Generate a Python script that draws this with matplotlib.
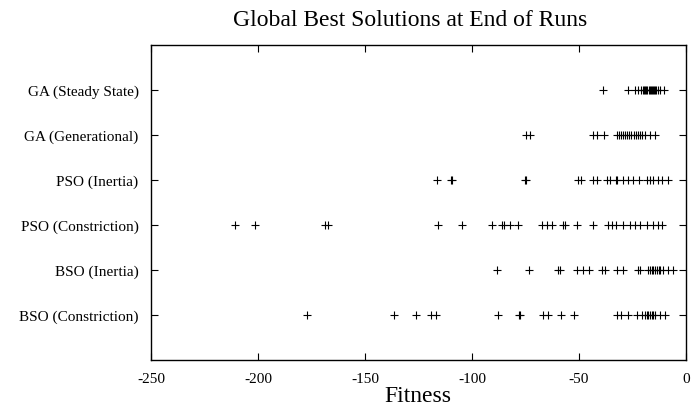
import matplotlib
matplotlib.use("Agg")
import matplotlib.pyplot as plt

plt.rcParams['font.family'] = ['Liberation Serif', 'DejaVu Serif']

categories = ["BSO (Constriction)", "BSO (Inertia)", "PSO (Constriction)",
              "PSO (Inertia)", "GA (Generational)", "GA (Steady State)"]

bso_constriction = [-177, -136.4, -126.3, -119.2, -117, -88, -78.2, -77.6,
                    -66.7, -64.6, -58.4, -52.2, -32.4, -30.5, -27, -23, -20.7,
                    -19.2, -18.4, -17.6, -16.8, -16, -15.2, -14.5, -12.1, -9.8]
bso_inertia = [-88.5, -73.4, -59.6, -59.0, -50.8, -48, -45.2, -39.1, -37.9,
               -32.4, -29.3, -22.3, -21.5, -17.6, -16.8, -16, -15.2, -14.4,
               -13.6, -12.8, -12.1, -10.6, -8.3, -5.9]
pso_constriction = [-210.7, -201.4, -168.7, -167.1, -115.7, -104.8, -90.8,
                    -86.1, -85, -82.2, -78.3, -67.4, -65.1, -62.8, -57.3,
                    -56.5, -51.1, -43.3, -36.3, -34.7, -32.7, -29.3, -26.2,
                    -23.8, -21.5, -18.4, -15.3, -12.9, -11.4]
pso_inertia = [-116.2, -109.8, -109.2, -75.1, -74.6, -50.3, -49.2, -43.3,
               -41.7, -37, -35.5, -32.7, -32.1, -29.3, -27, -24.6, -21.8,
               -18.4, -16.8, -15.3, -13.2, -11.4, -8.3]
ga_generational = [-75, -73, -43.5, -41.5, -38.5, -32.4, -31.5, -30.5, -29.5,
                   -28.5, -27.5, -26.5, -25.5, -24.5, -23.5, -22.5, -21.5,
                   -20.5, -19.2, -16.8, -14.5]
ga_steady_state = [-38.6, -27, -24, -22.5, -21, -20, -19.5, -19, -18.5, -18,
                   -17.5, -17, -16.5, -16, -15.5, -15, -14.5, -14, -13, -12,
                   -10.3]

series = [bso_constriction, bso_inertia, pso_constriction,
          pso_inertia, ga_generational, ga_steady_state]

xticks = [-250, -200, -150, -100, -50, 0]

fig = plt.figure(figsize=(6.91, 4.10), dpi=100)
ax = fig.add_axes([151 / 691, 1 - 361 / 410, 535 / 691, 315 / 410])

for i, vals in enumerate(series, start=1):
    ax.plot(vals, [i] * len(vals), linestyle='none', marker='+',
            markersize=6, markeredgewidth=0.8, color='black')

ax.set_xlim(-250, 0)
ax.set_ylim(0, 7)
ax.set_xticks(xticks)
ax.set_xticklabels([str(t) for t in xticks])
ax.set_yticks(range(1, len(categories) + 1))
ax.set_yticklabels(categories)

ax.tick_params(axis='both', direction='in', length=5, width=0.8,
               top=True, right=True, labelsize=11, colors='black')
ax.tick_params(axis='x', pad=9)
ax.tick_params(axis='y', pad=9)
for spine in ax.spines.values():
    spine.set_linewidth(1.0)

fig.text(410 / 691, 1 - 20 / 410, "Global Best Solutions at End of Runs",
         fontsize=17, ha='center', va='center')
fig.text(418 / 691, 1 - 397 / 410, "Fitness",
         fontsize=17, ha='center', va='center')

fig.savefig("out.png", dpi=100)
